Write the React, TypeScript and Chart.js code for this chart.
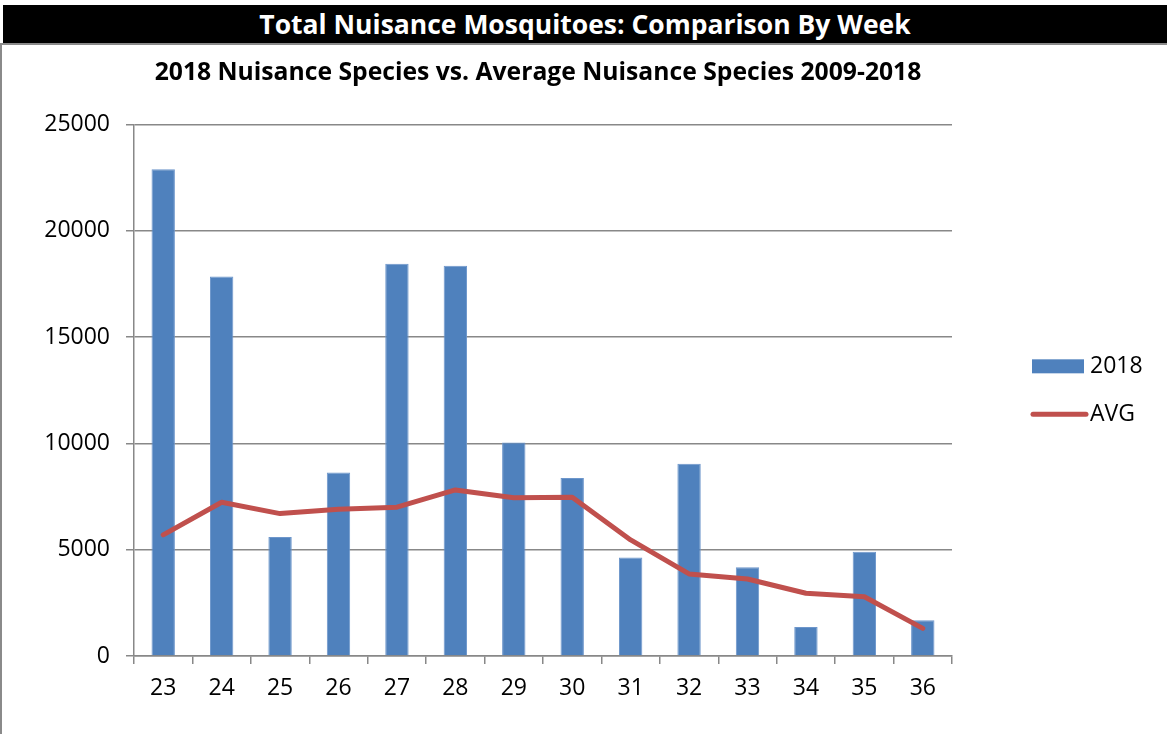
import React, { useEffect, useRef } from "react";
import { Chart, registerables } from "chart.js";

Chart.register(...registerables);

const headerText = "Total Nuisance Mosquitoes: Comparison By Week";
const chartTitle = "2018 Nuisance Species vs. Average Nuisance Species 2009-2018";
const weeks = ["23", "24", "25", "26", "27", "28", "29", "30", "31", "32", "33", "34", "35", "36"];
const values2018 = [22900, 17850, 5600, 8630, 18460, 18360, 10040, 8380, 4640, 9040, 4175, 1365, 4910, 1680];
const valuesAvg = [5700, 7235, 6700, 6900, 7000, 7815, 7450, 7470, 5460, 3860, 3625, 2950, 2790, 1300];
const yMin = 0;
const yMax = 25000;
const yStep = 5000;

const FONT = "'Open Sans', 'Liberation Sans', sans-serif";
const BAR_COLOR = "#4f81bd";
const LINE_COLOR = "#c0504d";
const GRID_COLOR = "#888888";

const legendPlugin = {
  id: "customLegend",
  afterDraw(chart: any) {
    const { ctx, chartArea } = chart;
    const midY = (chartArea.top + chartArea.bottom) / 2;
    const x0 = chartArea.right + 80;
    ctx.save();
    ctx.font = `23px ${FONT}`;
    ctx.textBaseline = "middle";
    // bar entry
    const y1 = midY - 24;
    ctx.fillStyle = chart.data.datasets[0].backgroundColor;
    ctx.fillRect(x0, y1 - 7, 52, 14);
    ctx.fillStyle = "#000";
    ctx.fillText(chart.data.datasets[0].label, x0 + 58, y1);
    // line entry
    const y2 = midY + 24;
    ctx.strokeStyle = chart.data.datasets[1].borderColor;
    ctx.lineWidth = 5;
    ctx.lineCap = "round";
    ctx.beginPath();
    ctx.moveTo(x0 + 1, y2);
    ctx.lineTo(x0 + 54, y2);
    ctx.stroke();
    ctx.fillText(chart.data.datasets[1].label, x0 + 58, y2);
    ctx.restore();
  },
};

export default function App() {
  const canvasRef = useRef<HTMLCanvasElement | null>(null);

  useEffect(() => {
    if (!canvasRef.current) return;
    const chart = new Chart(canvasRef.current, {
      type: "bar",
      data: {
        labels: weeks,
        datasets: [
          {
            type: "bar",
            label: "2018",
            data: values2018,
            backgroundColor: BAR_COLOR,
            borderColor: "#6d96cb",
            borderWidth: 1,
            barPercentage: 0.4,
            categoryPercentage: 1,
            order: 2,
            yAxisID: "y",
          },
          {
            type: "line",
            label: "AVG",
            data: valuesAvg,
            borderColor: LINE_COLOR,
            backgroundColor: LINE_COLOR,
            borderWidth: 5,
            pointRadius: 0,
            tension: 0,
            borderCapStyle: "round",
            borderJoinStyle: "round",
            order: 1,
            yAxisID: "y",
          },
        ],
      } as any,
      options: {
        responsive: false,
        animation: false,
        layout: { padding: { top: 44, left: 0, right: 91, bottom: 0 } },
        plugins: {
          legend: { display: false },
          tooltip: { enabled: false },
          title: {
            display: true,
            text: chartTitle,
            color: "#000",
            font: { family: FONT, size: 24.7, weight: "bold", lineHeight: 1.2 },
            padding: { top: 14, bottom: 37 },
          },
        },
        scales: {
          x: {
            offset: true,
            grid: {
              offset: true,
              drawOnChartArea: false,
              drawTicks: true,
              tickLength: 8,
              color: GRID_COLOR,
              lineWidth: 1.5,
            },
            border: { display: true, color: GRID_COLOR, width: 1.5 },
            ticks: { color: "#000", font: { family: FONT, size: 23 }, padding: 11 },
            afterFit(scale: any) {
              scale.height = 78;
            },
          },
          y: {
            min: yMin,
            max: yMax,
            ticks: {
              stepSize: yStep,
              color: "#000",
              font: { family: FONT, size: 23 },
              padding: 16,
              callback: (v: any) => String(v),
            },
            grid: { color: GRID_COLOR, lineWidth: 1.5, tickLength: 8 },
            border: { display: true, color: GRID_COLOR, width: 1.5 },
            afterFit(scale: any) {
              scale.width = 134;
            },
          },
          legendSpace: {
            type: "linear",
            position: "right",
            display: true,
            min: yMin,
            max: yMax,
            grid: { drawOnChartArea: false, drawTicks: false },
            border: { display: false },
            ticks: { display: false },
            afterFit(scale: any) {
              scale.width = 124;
            },
          },
        },
      } as any,
      plugins: [legendPlugin],
    });
    return () => chart.destroy();
  }, []);

  return (
    <div style={{ position: "absolute", left: 0, top: 0, width: 1167, height: 734, background: "#fff", overflow: "hidden" }}>
      <div
        style={{
          position: "absolute",
          left: 3,
          top: 5,
          width: 1164,
          height: 38,
          background: "#000",
          color: "#fff",
          fontFamily: FONT,
          fontWeight: "bold",
          fontSize: 26.5,
          lineHeight: "38px",
          textAlign: "center",
          whiteSpace: "nowrap",
        }}
      >
        {headerText}
      </div>
      <div style={{ position: "absolute", left: 0, top: 43, width: 1167, height: 2, background: "#8a8a8a" }} />
      <div style={{ position: "absolute", left: 0, top: 43, width: 2, height: 691, background: "#8a8a8a" }} />
      <canvas
        ref={canvasRef}
        width={1167}
        height={734}
        style={{ position: "absolute", left: 0, top: 0, display: "block" }}
      />
    </div>
  );
}
